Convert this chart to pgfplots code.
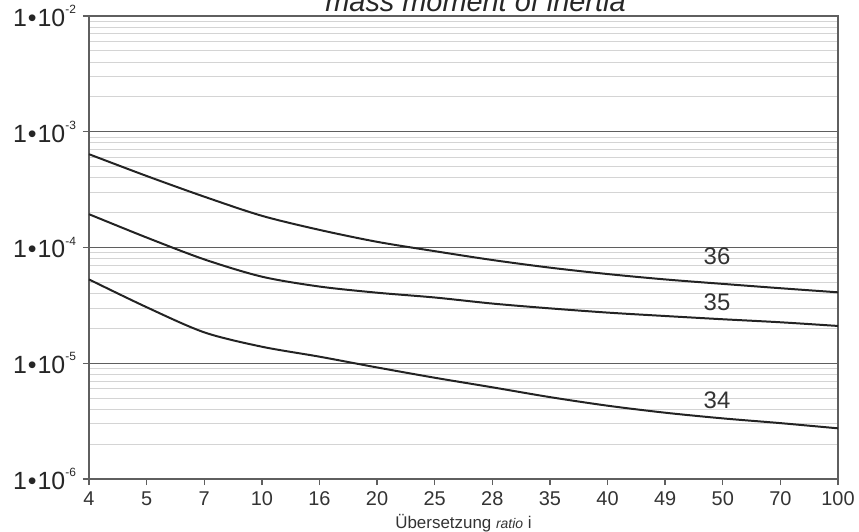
\documentclass[border=0pt]{standalone}
\usepackage{pgfplots}
\pgfplotsset{compat=1.18}
\usepackage{fontspec}
\setmainfont{Liberation Sans}

\definecolor{majgrid}{RGB}{95,95,95}
\definecolor{mingrid}{RGB}{212,212,212}
\definecolor{curve}{RGB}{35,35,35}

% tick label like 1•10^-4
\newcommand{\ylab}[1]{1\kern0.04em\textbullet\kern0.04em10\raisebox{0.95ex}{\fontsize{6}{6}\selectfont #1}}

\begin{document}
\begin{tikzpicture}
\begin{axis}[
  scale only axis, width=374.5bp, height=231.5bp,
  ymode=log, ymin=1e-6, ymax=1e-2,
  xmin=0, xmax=13,
  xtick={0,...,13},
  xticklabels={4,5,7,10,16,20,25,28,35,40,49,50,70,100},
  ytick={1e-6,1e-5,1e-4,1e-3,1e-2},
  yticklabels={\ylab{-6},\ylab{-5},\ylab{-4},\ylab{-3},\ylab{-2}},
  ymajorgrids, yminorgrids,
  major grid style={majgrid, line width=0.7pt},
  minor grid style={mingrid, line width=0.5pt},
  axis line style={draw=majgrid, line width=0.8pt},
  tick align=outside, xtick pos=bottom, ytick pos=left,
  major tick length=3bp, minor tick length=0pt,
  tick style={majgrid, line width=0.7pt},
  xticklabel style={font=\fontsize{10}{12}\selectfont, text=black!80},
  yticklabel style={font=\fontsize{12.5}{14}\selectfont, text=black!85},
  xlabel={Übersetzung {\fontsize{7}{8}\selectfont\itshape ratio} i},
  xlabel style={font=\fontsize{8.5}{10}\selectfont, text=black!80,
    at={(axis description cs:0.5,0)}, anchor=center, yshift=-22bp},
  clip=false,
]
  \addplot[curve, line width=1pt, smooth] coordinates {
    (0,6.4e-4)(1,4.15e-4)(2,2.75e-4)(3,1.88e-4)(4,1.42e-4)(5,1.12e-4)(6,9.3e-5)
    (7,7.8e-5)(8,6.7e-5)(9,5.9e-5)(10,5.3e-5)(11,4.85e-5)(12,4.45e-5)(13,4.1e-5)};
  \addplot[curve, line width=1pt, smooth] coordinates {
    (0,1.94e-4)(1,1.22e-4)(2,7.9e-5)(3,5.6e-5)(4,4.6e-5)(5,4.07e-5)(6,3.7e-5)
    (7,3.28e-5)(8,2.98e-5)(9,2.74e-5)(10,2.56e-5)(11,2.4e-5)(12,2.26e-5)(13,2.1e-5)};
  \addplot[curve, line width=1pt, smooth] coordinates {
    (0,5.3e-5)(1,3.05e-5)(2,1.85e-5)(3,1.39e-5)(4,1.14e-5)(5,9.2e-6)(6,7.5e-6)
    (7,6.2e-6)(8,5.1e-6)(9,4.3e-6)(10,3.74e-6)(11,3.34e-6)(12,3.04e-6)(13,2.74e-6)};

  \node[font=\fontsize{12}{14}\selectfont, text=black!80] at (axis cs:10.9,8.45e-5) {36};
  \node[font=\fontsize{12}{14}\selectfont, text=black!80] at (axis cs:10.9,3.34e-5) {35};
  \node[font=\fontsize{12}{14}\selectfont, text=black!80] at (axis cs:10.9,4.8e-6) {34};

  \node[font=\fontsize{14.5}{16}\selectfont\itshape, text=black!85, anchor=base,
    xshift=6bp, yshift=2.5bp] at (rel axis cs:0.5,1) {mass moment of inertia};

  \coordinate (bl) at (rel axis cs:0,0);
  \coordinate (tr) at (rel axis cs:1,1);
\end{axis}
\pgfresetboundingbox
\path[use as bounding box] ([shift={(-44.5bp,-26.5bp)}]bl) rectangle ([shift={(10.5bp,8bp)}]tr);
\end{tikzpicture}
\end{document}
